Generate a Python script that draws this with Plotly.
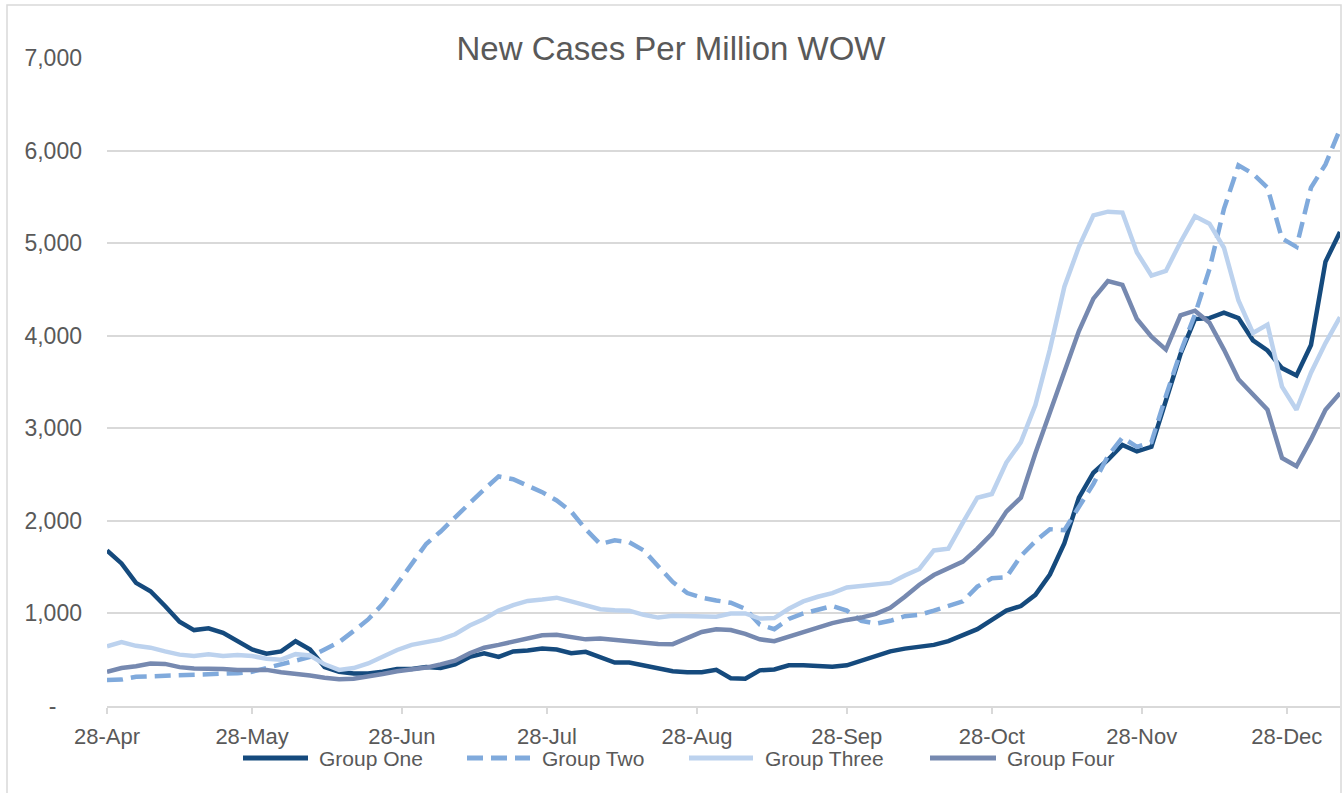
import plotly.graph_objects as go
import pandas as pd

# daily series sampled every 3 days, 28-Apr-2020 .. 08-Jan-2021
dates = pd.date_range("2020-04-28", "2021-01-08", freq="3D")

group_one = [
    1680, 1540, 1330, 1240, 1080, 910, 820, 840, 790, 700,
    610, 565, 590, 700, 610, 420, 370, 350, 350, 370,
    400, 400, 420, 410, 450, 530, 570, 530, 590, 600,
    620, 610, 570, 585, 530, 470, 470, 440, 410, 375,
    365, 365, 390, 300, 295, 385, 395, 440, 440, 430,
    425, 440, 490, 545, 590, 620, 640, 660, 700, 760,
    830, 930, 1030, 1080, 1200, 1420, 1760, 2250, 2520, 2660,
    2820, 2750, 2800, 3300, 3800, 4180, 4190, 4250, 4190, 3950,
    3840, 3650, 3570, 3900, 4800, 5120,
]
group_two = [
    280, 285, 315, 320, 322, 330, 335, 345, 350, 355,
    370, 410, 445, 490, 530, 610, 690, 810, 935, 1100,
    1320, 1520, 1750, 1885, 2030, 2190, 2340, 2480, 2450, 2385,
    2310, 2220, 2100, 1910, 1750, 1790, 1770, 1680, 1510, 1340,
    1220, 1170, 1140, 1115, 1050, 880, 830, 940, 1000, 1040,
    1080, 1030, 920, 890, 920, 970, 985, 1030, 1080, 1130,
    1290, 1380, 1390, 1620, 1780, 1910, 1900, 2150, 2400, 2700,
    2900, 2800, 2850, 3350, 3820, 4230, 4720, 5370, 5840, 5750,
    5600, 5050, 4960, 5600, 5850, 6230,
]
group_three = [
    645, 690, 650, 630, 590, 555, 540, 560, 540, 550,
    540, 510, 500, 560, 545, 450, 390, 410, 460, 530,
    605, 660, 690, 720, 775, 870, 940, 1030, 1090, 1135,
    1150, 1170, 1130, 1085, 1045, 1035, 1030, 985, 955, 975,
    975, 965, 965, 1000, 1000, 945, 950, 1050, 1130, 1180,
    1220, 1280, 1295, 1305, 1330, 1410, 1480, 1680, 1700, 1980,
    2250, 2290, 2630, 2850, 3250, 3850, 4530, 4960, 5300, 5340,
    5330, 4900, 4650, 4700, 5010, 5290, 5210, 4950, 4380, 4030,
    4120, 3450, 3200, 3600, 3920, 4200,
]
group_four = [
    370, 410, 430, 460, 455, 420, 405, 405, 400, 390,
    385, 390, 365, 350, 330, 305, 290, 295, 315, 345,
    375, 390, 415, 450, 490, 570, 630, 660, 695, 725,
    765, 770, 740, 720, 730, 715, 705, 690, 670, 668,
    730, 800, 830, 820, 780, 720, 700, 750, 800, 850,
    895, 930, 955, 995, 1060, 1180, 1310, 1415, 1490, 1560,
    1700, 1860, 2100, 2250, 2730, 3180, 3600, 4050, 4400, 4590,
    4550, 4180, 3990, 3850, 4220, 4270, 4140, 3850, 3530, 3360,
    3200, 2680, 2590, 2880, 3200, 3380,
]

tick_dates = ["2020-04-28", "2020-05-28", "2020-06-28", "2020-07-28", "2020-08-28",
              "2020-09-28", "2020-10-28", "2020-11-28", "2020-12-28"]
tick_labels = ["28-Apr", "28-May", "28-Jun", "28-Jul", "28-Aug",
               "28-Sep", "28-Oct", "28-Nov", "28-Dec"]
y_ticks = [0, 1000, 2000, 3000, 4000, 5000, 6000, 7000]
y_labels = ["-\u00a0\u00a0\u00a0\u00a0", "1,000", "2,000", "3,000", "4,000", "5,000", "6,000", "7,000"]

series = [
    ("Group One", group_one, "#154a7d", "solid"),
    ("Group Two", group_two, "#80aadc", "16px,8px"),
    ("Group Three", group_three, "#bcd2ee", "solid"),
    ("Group Four", group_four, "#7689b0", "solid"),
]

FONT = "Liberation Sans, Arial, sans-serif"
GREY = "#595959"
W, H = 1342, 793
L, R, T, B = 107, 2, 58, 87
PW, PH = W - L - R, H - T - B


def px_x(x):
    return (x - L) / PW


def px_y(y):
    return (H - B - y) / PH


fig = go.Figure()
for name, vals, color, dash in series:
    fig.add_trace(go.Scatter(
        x=dates, y=vals, name=name, mode="lines",
        line=dict(color=color, width=4.5, dash=dash),
    ))

fig.update_layout(
    width=W, height=H,
    margin=dict(l=L, r=R, t=T, b=B),
    paper_bgcolor="white", plot_bgcolor="white",
    font=dict(family=FONT, color=GREY, size=22),
    title=dict(text="New Cases Per Million WOW", x=0.5, xref="container",
               y=1 - 48 / H, yref="container", yanchor="middle",
               font=dict(size=33, color=GREY, family=FONT)),
    showlegend=False,
    xaxis=dict(
        type="date", range=["2020-04-28", "2021-01-08"],
        tickvals=tick_dates, ticktext=tick_labels,
        showgrid=False, zeroline=False,
        showline=True, linecolor="#d9d9d9", linewidth=1.5,
        ticks="outside", ticklen=6, tickcolor="#d9d9d9", tickwidth=1.5,
        ticklabelstandoff=4, tickfont=dict(size=22, color=GREY),
    ),
    yaxis=dict(
        range=[0, 7000], tickvals=y_ticks, ticktext=y_labels,
        showgrid=True, gridcolor="#d9d9d9", gridwidth=1.5,
        zeroline=False, showline=False, ticks="",
        ticklabelstandoff=24, tickfont=dict(size=23, color=GREY),
    ),
)

# legend drawn by hand so the long line samples match
legend_pos = [(243, 308, 317), (467, 530, 540), (689, 753, 763), (930, 996, 1005)]
ly = px_y(758)
for (name, vals, color, dash), (x0, x1, tx) in zip(series, legend_pos):
    fig.add_shape(type="line", xref="paper", yref="paper",
                  x0=px_x(x0), x1=px_x(x1), y0=ly, y1=ly,
                  line=dict(color=color, width=5, dash=dash))
    fig.add_annotation(text=name, xref="paper", yref="paper",
                       x=px_x(tx), y=ly, xanchor="left", yanchor="middle",
                       showarrow=False, font=dict(size=21, color=GREY))

# chart-area border
fig.add_shape(type="rect", xref="paper", yref="paper",
              x0=px_x(7), x1=px_x(1341), y0=px_y(820), y1=px_y(5),
              line=dict(color="#d9d9d9", width=1.5), layer="below")

fig.write_html("out.html", config={"displayModeBar": False},
               post_script="document.body.style.margin='0';")
